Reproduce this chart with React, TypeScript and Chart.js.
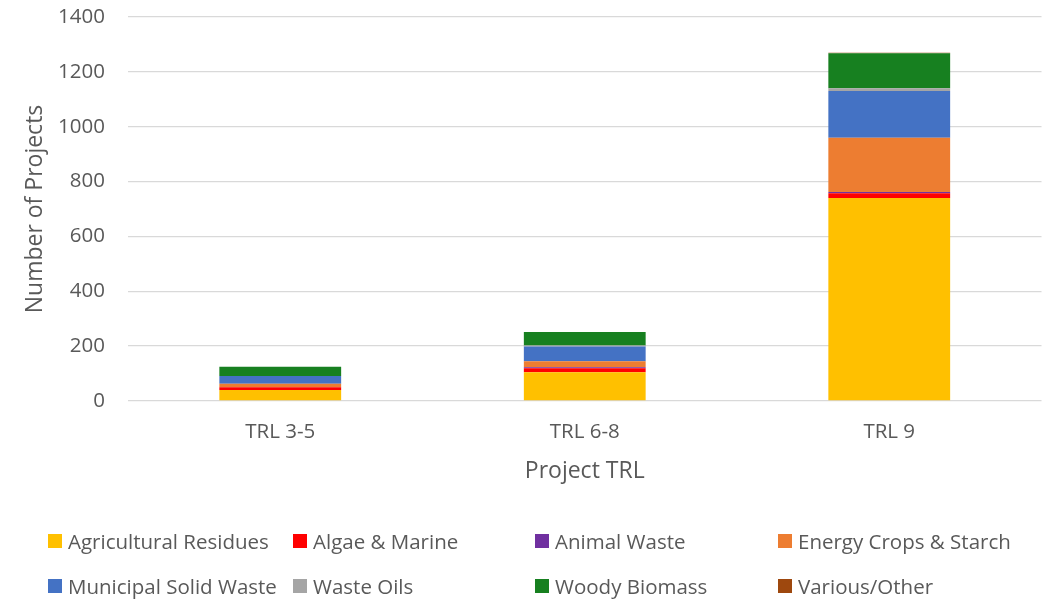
import React, { useEffect, useRef } from "react";
import { Chart, registerables } from "chart.js";

Chart.register(...registerables);

const categories = ["TRL 3-5", "TRL 6-8", "TRL 9"];

const agriculturalResidues = [40, 105, 740];
const algaeMarine = [10, 14, 17];
const animalWaste = [0, 4, 5];
const energyCrops = [13, 22, 198];
const municipalSolidWaste = [28, 54, 170];
const wasteOils = [0, 3, 10];
const woodyBiomass = [34, 50, 128];
const variousOther = [0, 0, 2];

const seriesNames = [
  "Agricultural Residues",
  "Algae & Marine",
  "Animal Waste",
  "Energy Crops & Starch",
  "Municipal Solid Waste",
  "Waste Oils",
  "Woody Biomass",
  "Various/Other",
];
const seriesValues = [
  agriculturalResidues,
  algaeMarine,
  animalWaste,
  energyCrops,
  municipalSolidWaste,
  wasteOils,
  woodyBiomass,
  variousOther,
];
const seriesColors = [
  "#FFC000",
  "#FF0000",
  "#7030A0",
  "#ED7D31",
  "#4472C4",
  "#A5A5A5",
  "#178020",
  "#9E480E",
];

const yMin = 0;
const yMax = 1400;
const yStep = 200;

const xTitle = "Project TRL";
const yTitle = "Number of Projects";

const FONT = "'Open Sans', 'Noto Sans', sans-serif";
const TEXT = "#595959";

export default function App() {
  const canvasRef = useRef<HTMLCanvasElement | null>(null);

  useEffect(() => {
    document.body.style.margin = "0";
    let chart: Chart | null = null;
    let cancelled = false;
    const make = () => {
      if (cancelled || !canvasRef.current) return;
      chart = new Chart(canvasRef.current, {
        type: "bar",
        data: {
          labels: categories,
          datasets: seriesNames.map((name, i) => ({
            label: name,
            data: seriesValues[i],
            backgroundColor: seriesColors[i],
            borderWidth: 0,
            barPercentage: 0.4,
            categoryPercentage: 1.0,
          })),
        },
        options: {
          animation: false,
          responsive: false,
          maintainAspectRatio: false,
          layout: { padding: { left: 0, right: 9.5, top: 17, bottom: 108 } },
          plugins: {
            legend: { display: false },
            tooltip: { enabled: false },
          },
          scales: {
            x: {
              stacked: true,
              grid: { display: false, drawTicks: false },
              border: { display: false },
              ticks: {
                color: TEXT,
                font: { family: FONT, size: 20.5 },
                padding: 19,
              },
              title: {
                display: true,
                text: xTitle,
                color: TEXT,
                font: { family: FONT, size: 23 },
                padding: { top: 0, bottom: 6 },
              },
              afterFit: (axis: any) => {
                axis.height = 90;
                axis.paddingLeft = 0;
                axis.paddingRight = 0;
              },
            },
            y: {
              stacked: true,
              min: yMin,
              max: yMax,
              grid: { color: "#d9d9d9", lineWidth: 1.3, drawTicks: false },
              border: { display: false },
              ticks: {
                stepSize: yStep,
                color: TEXT,
                font: { family: FONT, size: 20.5 },
                padding: 23,
                callback: (v: any) => String(v),
              },
              title: {
                display: true,
                text: yTitle,
                color: TEXT,
                font: { family: FONT, size: 23 },
                padding: { top: 22, bottom: 0 },
              },
              afterFit: (axis: any) => {
                axis.width = 128;
                axis.paddingTop = 0;
                axis.paddingBottom = 0;
              },
            },
          },
        },
      });
    };
    if ((document as any).fonts && (document as any).fonts.load) {
      Promise.all([
        (document as any).fonts.load("20px 'Open Sans'"),
      ])
        .catch(() => null)
        .then(make);
    } else {
      make();
    }
    return () => {
      cancelled = true;
      if (chart) chart.destroy();
    };
  }, []);

  const colX = [48, 293, 535, 778];
  const rowY = [541, 586];

  return (
    <div style={{ position: "relative", width: 1051, height: 599, background: "#fff" }}>
      <canvas ref={canvasRef} width={1051} height={599} style={{ position: "absolute", left: 0, top: 0 }} />
      {seriesNames.map((name, i) => {
        const c = i % 4;
        const r = Math.floor(i / 4);
        return (
          <div
            key={name}
            style={{
              position: "absolute",
              left: colX[c],
              top: rowY[r] - 15,
              height: 30,
              display: "flex",
              alignItems: "center",
              fontFamily: FONT,
              fontSize: 20.5,
              color: TEXT,
              whiteSpace: "nowrap",
            }}
          >
            <span
              style={{
                display: "inline-block",
                width: 13.5,
                height: 13.5,
                background: seriesColors[i],
                marginRight: 6.5,
              }}
            />
            <span>{name}</span>
          </div>
        );
      })}
    </div>
  );
}
